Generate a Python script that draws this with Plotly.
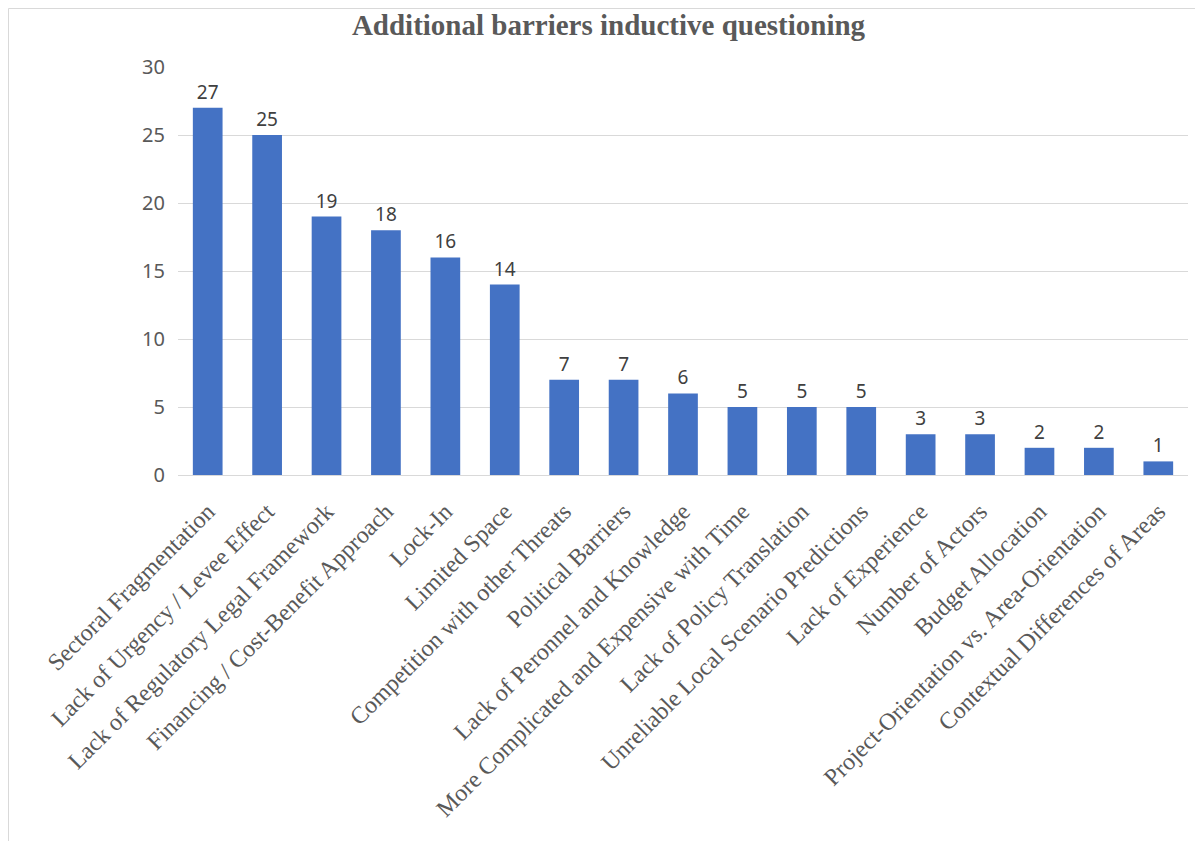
import plotly.graph_objects as go

categories = [
    "Sectoral Fragmentation",
    "Lack of Urgency / Levee Effect",
    "Lack of Regulatory Legal Framework",
    "Financing / Cost-Benefit Approach",
    "Lock-In",
    "Limited Space",
    "Competition with other Threats",
    "Political Barriers",
    "Lack of Peronnel and Knowledge",
    "More Complicated and Expensive with Time",
    "Lack of Policy Translation",
    "Unreliable Local Scenario Predictions",
    "Lack of Experience",
    "Number of Actors",
    "Budget Allocation",
    "Project-Orientation vs. Area-Orientation",
    "Contextual Differences of Areas",
]
values = [27, 25, 19, 18, 16, 14, 7, 7, 6, 5, 5, 5, 3, 3, 2, 2, 1]
y_ticks = [0, 5, 10, 15, 20, 25, 30]

W, H = 1195, 833
L, R, T, B = 170, 15, 59, 366
PW, PH = W - L - R, H - T - B

fig = go.Figure(
    go.Bar(
        x=categories,
        y=values,
        marker=dict(color="#4472C4", line=dict(width=0)),
        text=[str(v) for v in values],
        textposition="outside",
        textfont=dict(family="Noto Sans, Open Sans, sans-serif", size=19, color="#404040"),
        cliponaxis=False,
    )
)

fig.update_layout(
    width=W,
    height=H,
    paper_bgcolor="white",
    plot_bgcolor="white",
    margin=dict(l=L, r=R, t=T, b=B, autoexpand=False),
    bargap=0.5,
    showlegend=False,
    title=dict(
        text="<b>Additional barriers inductive questioning</b>",
        x=600.5 / W,
        xanchor="center",
        y=1 - 17 / H,
        yanchor="middle",
        font=dict(family="Liberation Serif, Times New Roman, serif", size=29, color="#595959"),
    ),
    xaxis=dict(
        tickangle=-45,
        tickfont=dict(family="Liberation Serif, Times New Roman, serif", size=24, color="#595959"),
        showgrid=False,
        showline=True,
        linecolor="#D9D9D9",
        linewidth=1,
        ticks="",
        automargin=False,
        ticklabelstandoff=12,
    ),
    yaxis=dict(
        range=[0, 30],
        tickvals=y_ticks,
        tickfont=dict(family="Noto Sans, Open Sans, sans-serif", size=20, color="#595959"),
        showgrid=True,
        gridcolor="#D9D9D9",
        gridwidth=1,
        zeroline=False,
        showline=False,
        ticks="",
        automargin=False,
        ticklabelstandoff=12,
    ),
    shapes=[
        dict(
            type="rect",
            xref="paper",
            yref="paper",
            x0=-(L - 0.5) / PW,
            x1=1.2,
            y0=-1.0,
            y1=1 + (T - 0.5) / PH,
            line=dict(color="#D9D9D9", width=1),
            fillcolor="rgba(0,0,0,0)",
            layer="below",
        )
    ],
)

fig.write_html("out.html")
